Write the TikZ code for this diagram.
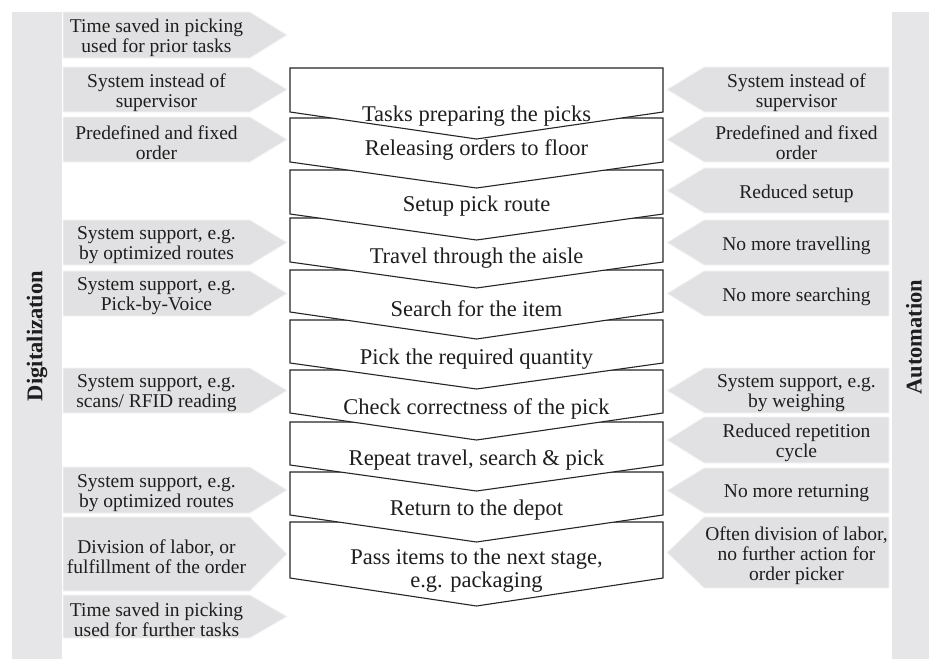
\documentclass[tikz,border=0pt]{standalone}
\usepackage{fontspec}
\setmainfont{Liberation Serif}
\definecolor{bargray}{RGB}{230,230,232}
\definecolor{arrgray}{RGB}{225,225,227}
\definecolor{txt}{RGB}{30,30,30}
\tikzset{
  arrowshape/.style={fill=arrgray, draw=white!92!gray, line width=0.8pt},
  chev/.style={fill=white, draw=black!85, line width=1.1pt, line join=miter},
  sidetext/.style={align=center, font=\fontsize{19.5}{20}\selectfont, text=txt, inner sep=0pt},
  chevtext/.style={align=center, font=\fontsize{22.5}{23}\selectfont, text=txt, inner sep=0pt},
  vlabel/.style={rotate=90, font=\fontsize{22.5}{24}\selectfont\bfseries, text=txt, inner sep=0pt},
}
\newcommand\LArr[4]{%
  \path[arrowshape] (63,#2) -- (250,#2) -- (287,{(#2+#3)/2}) -- (250,#3) -- (63,#3) -- cycle;
  \node[sidetext] (#1) at (156.5,{(#2+#3)/2+3}) {#4};
}
\newcommand\RArr[4]{%
  \path[arrowshape] (889,#2) -- (704,#2) -- (667,{(#2+#3)/2}) -- (704,#3) -- (889,#3) -- cycle;
  \node[sidetext] (#1) at (796.5,{(#2+#3)/2+3}) {#4};
}
\newcommand\Chev[3]{%
  \path[chev] (290,#1) -- (663,#1) -- (663,#2) -- (476.5,#3) -- (290,#2) -- cycle;
}
\begin{document}
\begin{tikzpicture}[x=1pt,y=-1pt]
\useasboundingbox[fill=white] (0,0) rectangle (929,659);
% side bars
\fill[bargray] (12,12) rectangle (62,659);
\fill[bargray] (892,12) rectangle (929,659);
\node[vlabel] (dig) at (37,336) {Digitalization};
\node[vlabel] (aut) at (914,337) {Automation};
% chevrons (drawn bottom to top so each tip overlaps the next box)
\Chev{522}{578}{606}
\Chev{472}{515}{542}
\Chev{422}{465}{491}
\Chev{370}{413}{440}
\Chev{320}{363}{389}
\Chev{270}{312}{339}
\Chev{218}{262}{288}
\Chev{170}{214}{240}
\Chev{118}{162}{188}
\Chev{68}{112}{139}
\node[chevtext] (c1) at (476.5,116) {Tasks preparing the picks};
\node[chevtext] (c2) at (476.5,150) {Releasing orders to floor};
\node[chevtext] (c3) at (476.5,206) {Setup pick route};
\node[chevtext] (c4) at (476.5,258) {Travel through the aisle};
\node[chevtext] (c5) at (476.5,309) {Search for the item};
\node[chevtext] (c6) at (476.5,359) {Pick the required quantity};
\node[chevtext] (c7) at (476.5,409) {Check correctness of the pick};
\node[chevtext] (c8) at (476.5,460) {Repeat travel, search \& pick};
\node[chevtext] (c9) at (476.5,510) {Return to the depot};
\node[chevtext] (c10) at (476.5,571) {Pass items to the next stage,\\e.g. packaging};
% left arrows
\LArr{l1}{12}{58}{Time saved in picking\\used for prior tasks}
\LArr{l2}{67}{112}{System instead of\\supervisor}
\LArr{l3}{117}{162}{Predefined and fixed\\order}
\LArr{l4}{220}{265}{System support, e.g.\\by optimized routes}
\LArr{l5}{271}{316}{System support, e.g.\\Pick-by-Voice}
\LArr{l6}{368}{413}{System support, e.g.\\scans/ RFID reading}
\LArr{l7}{467}{513}{System support, e.g.\\by optimized routes}
\LArr{l8}{517}{591}{Division of labor, or\\fulfillment of the order}
\LArr{l9}{595}{638}{Time saved in picking\\used for further tasks}
% right arrows
\RArr{r1}{67}{112}{System instead of\\supervisor}
\RArr{r2}{117}{162}{Predefined and fixed\\order}
\RArr{r3}{168}{213}{Reduced setup}
\RArr{r4}{220}{265}{No more travelling}
\RArr{r5}{271}{316}{No more searching}
\RArr{r6}{368}{413}{System support, e.g.\\by weighing}
\RArr{r7}{417}{463}{Reduced repetition\\cycle}
\RArr{r8}{468}{513}{No more returning}
\RArr{r9}{517}{588}{Often division of labor,\\no further action for\\order picker}
\end{tikzpicture}
\end{document}
